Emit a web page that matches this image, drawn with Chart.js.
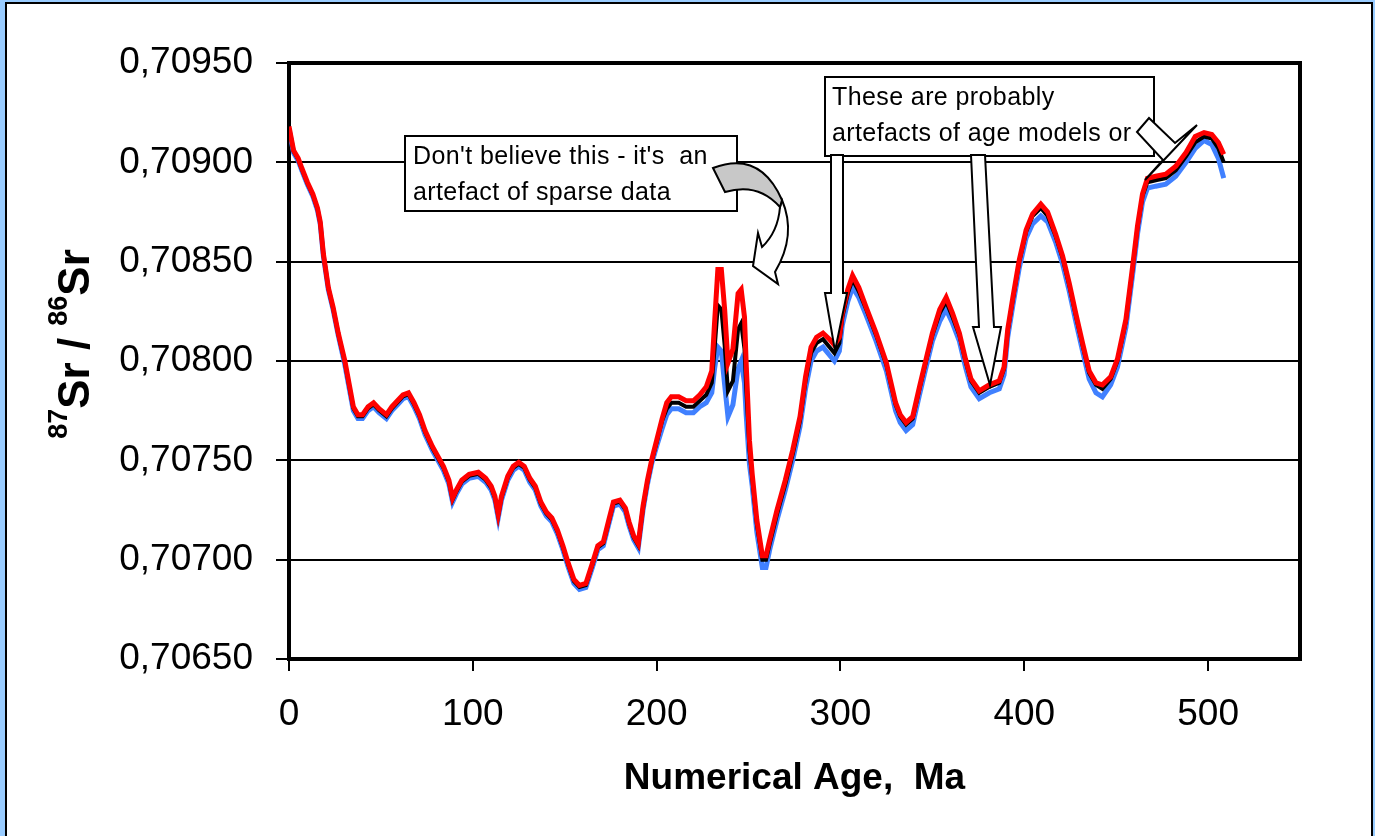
<!DOCTYPE html>
<html>
<head>
<meta charset="utf-8">
<script src="https://cdn.jsdelivr.net/npm/chart.js@4"></script>
<style>
html,body{margin:0;padding:0;background:#fff;}
canvas{display:block;}
</style>
</head>
<body>
<canvas id="c" width="1375" height="836"></canvas>
<script>
// ---- data (Numerical age, Ma) ----
const ages = [
0,2.5,5,7,10,13,15.5,17,18.7,21.4,
24,26.8,30.4,33,35,37.5,40,43,46,49,
53,56,59,62,65,68,71,74,78,81,
84,87,89,91,94,98,103,107,110,112,
113.8,115.6,119,122,125,128,131,134,137,140,
143,146,149,152,155,158,161.5,165,168,171,
174,176.5,180,183,185,187.5,190,192.6,195,197.5,
200,203,205.5,208,212,216,220,223.5,227,230,
231.5,233.3,235.2,237,238.8,241.5,244.3,246,247.8,248.7,
250.5,252,254.5,257.5,259.5,261.5,265.5,270,274,278,
281,284,287,290.5,294,296.7,299.4,301,304,306.6,
310,314,319.4,325,330,332.5,335.7,339.3,343,346.6,
350,354,357.5,361,364.7,368,371,375.5,381,386.4,
389,391,393.8,397.3,401,404.5,409,412.7,417,420.8,
424.5,428,431.7,435.3,439,442.5,447,450.7,455.3,459,
461.6,464.3,467,471.5,477,482.4,488,493,497.8,502,
505.6,508.5];

// upper curve (red)
const upperSr = [
0.70918,0.70906,0.70902,0.70897,0.70890,0.70884,0.70877,0.70870,0.70854,0.70837,
0.70827,0.70814,0.70800,0.70787,0.70777,0.70773,0.70773,0.70777,0.70779,0.70776,
0.70773,0.70777,0.70780,0.70783,0.70784,0.70779,0.70773,0.70765,0.70757,0.70752,
0.70747,0.70740,0.70731,0.70735,0.70740,0.70743,0.70744,0.70741,0.70737,0.70732,
0.70723,0.70732,0.70742,0.70747,0.70749,0.70747,0.70741,0.70737,0.70729,0.70724,
0.70721,0.70715,0.70707,0.70698,0.70690,0.70687,0.70688,0.70698,0.70707,0.70709,
0.70720,0.70729,0.70730,0.70726,0.70719,0.70712,0.70708,0.70727,0.70740,0.70751,
0.70760,0.70771,0.70779,0.70782,0.70782,0.70780,0.70780,0.70783,0.70787,0.70795,
0.70819,0.70846,0.70846,0.70826,0.70799,0.70806,0.70834,0.70836,0.70822,0.70799,
0.70760,0.70743,0.70720,0.70702,0.70702,0.70710,0.70725,0.70740,0.70755,0.70772,
0.70792,0.70807,0.70812,0.70814,0.70811,0.70808,0.70812,0.70824,0.70836,0.70843,
0.70837,0.70827,0.70814,0.70799,0.70779,0.70773,0.70769,0.70772,0.70787,0.70801,
0.70814,0.70826,0.70832,0.70824,0.70814,0.70801,0.70791,0.70785,0.70788,0.70790,
0.70797,0.70816,0.70832,0.70851,0.70866,0.70874,0.70879,0.70875,0.70864,0.70853,
0.70839,0.70824,0.70809,0.70795,0.70789,0.70788,0.70792,0.70801,0.70821,0.70848,
0.70868,0.70884,0.70892,0.70893,0.70894,0.70898,0.70905,0.70913,0.70915,0.70914,
0.70910,0.70904];

// mean curve (black)
const meanSr = [
0.709175,0.709055,0.709015,0.708965,0.708895,0.708835,0.708765,0.708695,0.708535,0.708365,
0.708265,0.708135,0.707992,0.707862,0.707762,0.707722,0.707722,0.707762,0.707782,0.707752,
0.707722,0.707762,0.707792,0.707822,0.707832,0.707782,0.707722,0.707642,0.707562,0.707512,
0.707462,0.707392,0.707302,0.707342,0.707392,0.707422,0.707432,0.707402,0.707362,0.707312,
0.707222,0.707312,0.707412,0.707462,0.707482,0.707462,0.707402,0.707362,0.707282,0.707232,
0.707202,0.707142,0.707062,0.706972,0.706892,0.706862,0.706872,0.706972,0.707062,0.707082,
0.707192,0.707282,0.707292,0.707252,0.707182,0.707112,0.707072,0.707262,0.707392,0.707502,
0.70759,0.7077,0.70776,0.70779,0.70779,0.70777,0.70777,0.7078,0.70783,0.70789,
0.70806,0.70828,0.70826,0.70808,0.70785,0.7079,0.70816,0.70819,0.70806,0.70787,
0.70755,0.70741,0.70718,0.707,0.707,0.70708,0.70723,0.70738,0.70753,0.7077,
0.7079,0.70804,0.70809,0.70811,0.70807,0.70804,0.70809,0.70822,0.70834,0.70841,
0.70835,0.70826,0.70813,0.70798,0.70778,0.70772,0.70768,0.70771,0.70786,0.708,
0.70813,0.70824,0.7083,0.70822,0.70813,0.708,0.7079,0.70784,0.70787,0.70789,
0.70796,0.70815,0.70831,0.7085,0.70865,0.70873,0.70877,0.70873,0.70863,0.70852,
0.70838,0.70823,0.70808,0.70794,0.70788,0.70786,0.70791,0.708,0.7082,0.70847,
0.70867,0.70883,0.7089,0.70891,0.70892,0.70896,0.70903,0.7091,0.70913,0.70912,
0.70907,0.709];

// lower curve (blue)
const lowerSr = [
0.709168,0.709048,0.709008,0.708958,0.708888,0.708828,0.708758,0.708688,0.708528,0.708358,
0.708258,0.708128,0.70798,0.70785,0.70775,0.70771,0.70771,0.70775,0.70777,0.70774,
0.70771,0.70775,0.70778,0.70781,0.70782,0.70777,0.70771,0.70763,0.70755,0.7075,
0.70745,0.70738,0.70729,0.70733,0.70738,0.70741,0.70742,0.70739,0.70735,0.7073,
0.70721,0.7073,0.7074,0.70745,0.70747,0.70745,0.70739,0.70735,0.70727,0.70722,
0.70719,0.70713,0.70705,0.70696,0.70688,0.70685,0.70686,0.70696,0.70705,0.70707,
0.70718,0.70727,0.70728,0.70724,0.70717,0.7071,0.70706,0.70725,0.70738,0.70749,
0.70757,0.70766,0.70773,0.70776,0.70776,0.70774,0.70774,0.70777,0.70779,0.70784,
0.70796,0.70807,0.70805,0.70788,0.70772,0.70778,0.70796,0.708,0.70789,0.70773,
0.70748,0.70737,0.70714,0.70696,0.70696,0.70705,0.7072,0.70735,0.7075,0.70767,
0.70786,0.708,0.70805,0.70807,0.70803,0.708,0.70805,0.70818,0.7083,0.70837,
0.70832,0.70823,0.7081,0.70795,0.70775,0.70769,0.70765,0.70768,0.70783,0.70797,
0.7081,0.7082,0.70826,0.70819,0.7081,0.70797,0.70787,0.70781,0.70784,0.70786,
0.70793,0.70812,0.70828,0.70847,0.70862,0.70869,0.70873,0.7087,0.7086,0.70849,
0.70835,0.7082,0.70805,0.70791,0.70784,0.70782,0.70788,0.70797,0.70817,0.70844,
0.70864,0.7088,0.70887,0.70888,0.70889,0.70893,0.709,0.70907,0.70911,0.70909,
0.70902,0.70892];

const xTickValues = [0,100,200,300,400,500];
const xTickLabels = ['0','100','200','300','400','500'];
const yTickValues = [0.7065,0.7070,0.7075,0.7080,0.7085,0.7090,0.7095];
const yTickLabels = ['0,70650','0,70700','0,70750','0,70800','0,70850','0,70900','0,70950'];
const xTitle = 'Numerical Age,  Ma';
const yTitleParts = [['87',true],['Sr',false],[' / ',false],['86',true],['Sr',false]];
const note1 = ["Don't believe this - it's  an", 'artefact of sparse data'];
const note2 = ['These are probably', 'artefacts of age models or'];

const FONT = '"Liberation Sans", Arial, Helvetica, sans-serif';
Chart.defaults.font.family = FONT;
Chart.defaults.color = '#000';

function labelFor(values, labels, v) {
  const i = values.findIndex(t => Math.abs(t - v) < 1e-7);
  return i >= 0 ? labels[i] : '';
}
const pts = vals => ages.map((a, i) => ({x: a, y: vals[i]}));

const framePlugin = {
  id: 'frame',
  beforeDraw(chart) {
    const c = chart.ctx;
    c.save();
    c.fillStyle = '#99ccff';
    c.fillRect(0, 0, 1375, 836);
    c.fillStyle = '#000';
    c.fillRect(5, 2, 1368, 834);
    c.fillStyle = '#fff';
    c.fillRect(7, 4, 1364, 832);
    c.restore();
  }
};

const borderPlugin = {
  id: 'plotBorder',
  beforeDatasetsDraw(chart) {
    const a = chart.chartArea, c = chart.ctx;
    c.save();
    c.strokeStyle = '#000';
    c.lineWidth = 4;
    c.strokeRect(a.left, a.top, a.right - a.left, a.bottom - a.top);
    c.restore();
  }
};

function poly(c, p) {
  c.beginPath();
  c.moveTo(p[0][0], p[0][1]);
  for (let i = 1; i < p.length; i++) c.lineTo(p[i][0], p[i][1]);
  c.closePath();
  c.fillStyle = '#fff';
  c.fill();
  c.stroke();
}

function noteBox(c, x, y, w, h, lines, tx, baselines) {
  c.fillStyle = '#fff';
  c.fillRect(x, y, w, h);
  c.strokeRect(x, y, w, h);
  c.fillStyle = '#000';
  c.font = '25px ' + FONT;
  c.textBaseline = 'alphabetic';
  c.textAlign = 'left';
  try { c.letterSpacing = '0.4px'; } catch (e) {}
  lines.forEach((t, i) => c.fillText(t, tx, baselines[i]));
  try { c.letterSpacing = '0px'; } catch (e) {}
}

const notesPlugin = {
  id: 'notes',
  afterDraw(chart) {
    const c = chart.ctx;
    c.save();
    c.strokeStyle = '#000';
    c.lineWidth = 2;
    c.lineJoin = 'miter';

    // note 1 and curved arrow
    noteBox(c, 405, 136, 332, 75, note1, 413, [164, 200]);
    c.strokeStyle = '#000';
    c.lineWidth = 2;
    c.beginPath();
    c.moveTo(782, 200);
    c.quadraticCurveTo(797, 235, 775, 272);
    c.lineTo(778, 284);
    c.lineTo(753, 266);
    c.lineTo(758, 233);
    c.lineTo(762, 247);
    c.quadraticCurveTo(778, 232, 780, 207);
    c.closePath();
    c.fillStyle = '#fff';
    c.fill();
    c.stroke();
    c.beginPath();
    c.moveTo(713, 168);
    c.quadraticCurveTo(760, 150, 782, 200);
    c.lineTo(780, 207);
    c.quadraticCurveTo(758, 182, 725, 192);
    c.closePath();
    c.fillStyle = '#c8c8c8';
    c.fill();
    c.stroke();

    // note 2 and its arrows
    noteBox(c, 825, 77, 329, 79, note2, 832, [105, 141]);
    c.strokeStyle = '#000';
    c.lineWidth = 2;
    poly(c, [[831,155],[843,155],[843,293],[847,293],[835,351],[825,293],[831,293]]);
    poly(c, [[971,155],[985,155],[994,327],[1001,327],[990,385],[973,327],[979,327]]);
    poly(c, [[1137,132],[1149,118],[1175,143],[1197,125],[1145,180],[1163,160]]);

    // y-axis title with superscripts
    c.translate(89, 344);
    c.rotate(-Math.PI / 2);
    c.fillStyle = '#000';
    c.textBaseline = 'alphabetic';
    c.textAlign = 'left';
    const big = 'bold 44px ' + FONT, small = 'bold 27px ' + FONT;
    let total = 0;
    yTitleParts.forEach(([t, sup]) => { c.font = sup ? small : big; total += c.measureText(t).width; });
    let x = -total / 2;
    yTitleParts.forEach(([t, sup]) => {
      c.font = sup ? small : big;
      c.fillText(t, x, sup ? -22 : 0);
      x += c.measureText(t).width;
    });
    c.restore();
  }
};

new Chart(document.getElementById('c'), {
  type: 'line',
  data: {
    datasets: [
      {label: 'upper', data: pts(upperSr), borderColor: '#ff0000', borderWidth: 5, order: 1},
      {label: 'mean', data: pts(meanSr), borderColor: '#000000', borderWidth: 4, order: 2},
      {label: 'lower', data: pts(lowerSr), borderColor: '#4080ff', borderWidth: 5, order: 3}
    ]
  },
  options: {
    responsive: false,
    animation: false,
    devicePixelRatio: 1,
    layout: {padding: {left: 0, top: 63, right: 75, bottom: 0}},
    elements: {point: {radius: 0}, line: {tension: 0, fill: false}},
    plugins: {legend: {display: false}, tooltip: {enabled: false}},
    scales: {
      x: {
        type: 'linear', min: 0, max: 550,
        afterFit: s => { s.height = 177; },
        ticks: {
          stepSize: 100, includeBounds: false, padding: 22, maxRotation: 0, autoSkip: false,
          color: '#000', font: {size: 37},
          callback: v => labelFor(xTickValues, xTickLabels, v)
        },
        grid: {drawOnChartArea: false, drawTicks: true, tickLength: 12, color: '#000', lineWidth: 2},
        border: {display: false},
        title: {display: true, text: xTitle, color: '#000', font: {size: 37, weight: 'bold'}, padding: {top: 0, bottom: 35}}
      },
      y: {
        type: 'linear', min: 0.7065, max: 0.7095,
        afterFit: s => { s.width = 289; },
        ticks: {
          stepSize: 0.0005, padding: 23, color: '#000', font: {size: 37},
          callback: v => labelFor(yTickValues, yTickLabels, v)
        },
        grid: {color: '#000', lineWidth: 2, tickLength: 13},
        border: {display: false}
      }
    }
  },
  plugins: [framePlugin, borderPlugin, notesPlugin]
});
</script>
</body>
</html>
